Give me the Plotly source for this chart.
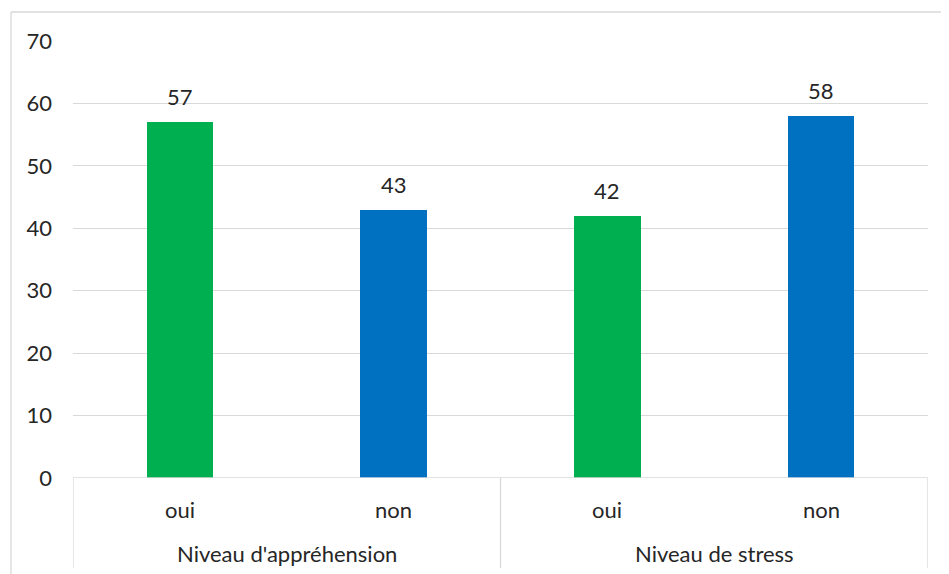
import plotly.graph_objects as go

groups = ["Niveau d'appréhension", "Niveau d'appréhension", "Niveau de stress", "Niveau de stress"]
answers = ["oui", "non", "oui", "non"]
values = [57, 43, 42, 58]
colors = ["#00B050", "#0070C0", "#00B050", "#0070C0"]
group_names = ["Niveau d'appréhension", "Niveau de stress"]
yticks = [0, 10, 20, 30, 40, 50, 60, 70]

FONT = "Lato"
FS = 22
TXT = "#262626"
GRID = "#D9D9D9"

xpos = list(range(len(values)))

fig = go.Figure()
fig.add_trace(go.Bar(
    x=xpos, y=values, marker_color=colors, marker_line_width=0,
    width=0.31, showlegend=False, hoverinfo="skip",
))

annotations = []
for i, v in enumerate(values):
    annotations.append(dict(x=i, y=v, xref="x", yref="y", text=str(v), showarrow=False,
                            yanchor="bottom", yshift=10,
                            font=dict(family=FONT, size=FS, color=TXT)))
ph = 437.0
pw = 855.0
for i, a in enumerate(answers):
    annotations.append(dict(x=i, y=-31 / ph, xref="x", yref="paper", text=a, showarrow=False,
                            yanchor="middle", font=dict(family=FONT, size=FS, color=TXT)))
for gi, g in enumerate(group_names):
    idx = [i for i, gg in enumerate(groups) if gg == g]
    annotations.append(dict(x=sum(idx) / len(idx), y=-75 / ph, xref="x", yref="paper", text=g,
                            showarrow=False, yanchor="middle",
                            font=dict(family=FONT, size=FS, color=TXT)))

shapes = []
shapes.append(dict(type="line", xref="paper", yref="y", x0=0, x1=1, y0=0, y1=0,
                   line=dict(color=GRID, width=1.3)))
bounds = [-0.5, 1.5, 3.5]
for b in bounds:
    shapes.append(dict(type="line", xref="x", yref="paper", x0=b, x1=b, y0=0, y1=-90 / ph,
                       line=dict(color=GRID, width=1.3)))
# outer chart border (top and left edges only visible)
bx0 = (11 - 73) / pw
by1 = (478 - 12) / ph
shapes.append(dict(type="line", xref="paper", yref="paper", x0=bx0, x1=(960 - 73) / pw,
                   y0=by1, y1=by1, line=dict(color=GRID, width=1.3), layer="below"))
shapes.append(dict(type="line", xref="paper", yref="paper", x0=bx0, x1=bx0,
                   y0=-120 / ph, y1=by1, line=dict(color=GRID, width=1.3), layer="below"))

fig.update_layout(
    width=949, height=574,
    margin=dict(l=65, r=29, t=33, b=104),
    paper_bgcolor="white", plot_bgcolor="white",
    font=dict(family=FONT, size=FS, color=TXT),
    xaxis=dict(range=[-0.5, 3.5], showticklabels=False, showgrid=False, zeroline=False,
               showline=False, ticks="", fixedrange=True),
    yaxis=dict(range=[0, 70], tickvals=yticks, showgrid=True, gridcolor=GRID, gridwidth=1.3,
               zeroline=False, showline=False, ticks="", ticklabelstandoff=20,
               tickfont=dict(family=FONT, size=FS, color=TXT), fixedrange=True),
    annotations=annotations, shapes=shapes, bargap=0,
)

fig.write_html("out.html")
